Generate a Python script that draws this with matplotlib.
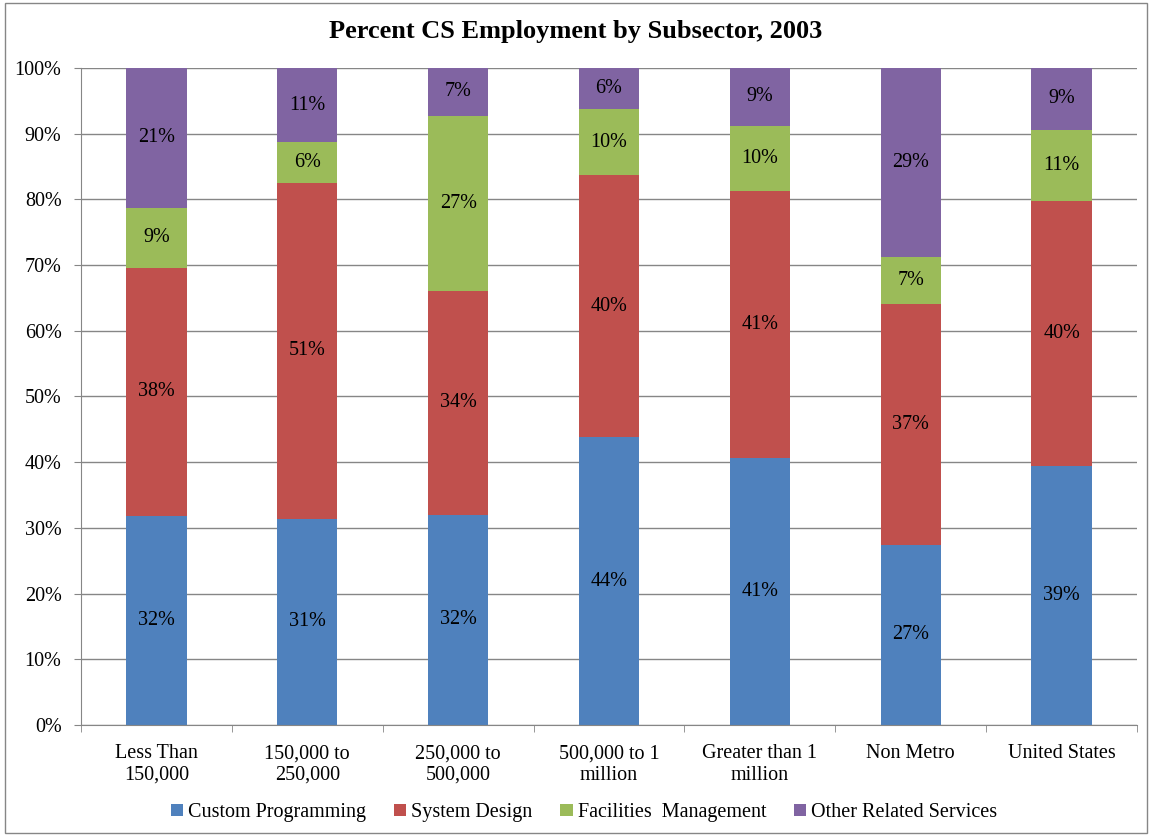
import numpy as np
import matplotlib.pyplot as plt
from matplotlib.patches import Rectangle

categories = ["Less Than\n150,000", "150,000 to\n250,000", "250,000 to\n500,000",
              "500,000 to 1\nmillion", "Greater than 1\nmillion", "Non Metro", "United States"]
custom_programming = [31.8, 31.4, 32.0, 43.8, 40.6, 27.4, 39.4]
system_design = [37.8, 51.1, 34.1, 39.9, 40.7, 36.7, 40.3]
facilities_mgmt = [9.1, 6.2, 26.6, 10.0, 9.9, 7.1, 10.9]
other_services = [21.3, 11.3, 7.3, 6.3, 8.8, 28.8, 9.4]

series = [
    ("Custom Programming", custom_programming, "#4F81BD"),
    ("System Design", system_design, "#C0504D"),
    ("Facilities  Management", facilities_mgmt, "#9BBB59"),
    ("Other Related Services", other_services, "#8064A2"),
]

plt.rcParams['font.family'] = ['Liberation Serif', 'DejaVu Serif']
fs = 14.5

fig = plt.figure(figsize=(11.52, 8.36), dpi=100)
ax = fig.add_axes([0.0703, 0.1328, 0.9167, 0.7859])

x = np.arange(len(categories))
bottom = np.zeros(len(categories))
for name, vals, color in series:
    vals = np.array(vals)
    ax.bar(x, vals, 0.4, bottom=bottom, color=color, label=name, zorder=2)
    for xi, b, v in zip(x, bottom, vals):
        ax.text(xi, b + v / 2, f"{v:.0f}%", ha="center", va="center", fontsize=fs, zorder=3)
    bottom += vals

ax.set_xlim(-0.5, len(categories) - 0.5)
ax.set_ylim(0, 100)
ax.set_yticks(np.arange(0, 101, 10))
ax.set_yticklabels([f"{v}%" for v in range(0, 101, 10)], fontsize=fs)
ax.set_xticks(x)
ax.set_xticklabels(categories, fontsize=fs, linespacing=1.15)
ax.set_xticks(np.arange(-0.5, len(categories)), minor=True)
ax.tick_params(axis="x", which="major", length=0, pad=14)
ax.tick_params(axis="x", which="minor", length=5, color="#868686")
ax.tick_params(axis="y", length=5, color="#868686", pad=9)
ax.yaxis.grid(True, color="#868686", linewidth=1, zorder=0)
ax.set_axisbelow(True)
for s in ["top", "right"]:
    ax.spines[s].set_visible(False)
for s in ["left", "bottom"]:
    ax.spines[s].set_color("#868686")

fig.text(0.5, 0.962, "Percent CS Employment by Subsector, 2003", ha="center", va="center",
         fontsize=19, fontweight="bold")

fig.legend(loc="center", bbox_to_anchor=(0.507, 0.028), ncol=4, frameon=False, fontsize=fs,
           handlelength=0.6, handleheight=0.6, handletextpad=0.25, columnspacing=1.4)

fig.patches.append(Rectangle((0.004, 0.004), 0.992, 0.992, transform=fig.transFigure,
                             fill=False, edgecolor="#868686", linewidth=1))

fig.savefig("out.png", dpi=100)
plt.close(fig)
